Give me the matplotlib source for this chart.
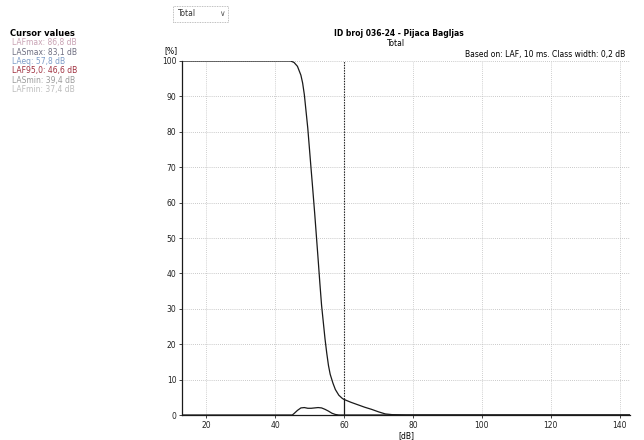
import matplotlib.pyplot as plt
from matplotlib.patches import Rectangle

# cumulative distribution [%] vs level [dB]
cum_db = [13, 44.5, 45.5, 46.5, 47.5, 48.0, 48.5, 49.5, 50.5, 50.8, 51.5, 52.5, 53.0,
          53.5, 54.5, 55.0, 55.5, 56.0, 56.8, 57.5, 58.5, 59.5, 60.0, 62, 64, 66, 68,
          70, 72, 74, 78, 143]
cum_pct = [100, 100, 99.6, 98.5, 96, 93.8, 90.5, 81, 69, 65.5, 57, 44, 37.3,
           31, 21.5, 17.5, 14, 11.5, 9, 7.2, 5.6, 4.7, 4.4, 3.6, 2.9, 2.2, 1.6,
           0.9, 0.3, 0.1, 0, 0]

# class distribution [%] per 0.2 dB class
dist_db = [13, 45, 45.5, 46.5, 47.5, 48.5, 49.5, 50.5, 51.5, 52.5, 53.5, 54.5, 55.5,
           56.5, 57.5, 58.5, 143]
dist_pct = [0, 0, 0.4, 1.3, 2.0, 2.1, 1.9, 1.9, 2.0, 2.1, 2.0, 1.6, 1.1,
            0.5, 0.15, 0, 0]

cursor_db = 60.0
cursor_pct = 4.4

cursor_labels = ['LAFmax: 86,8 dB', 'LASmax: 83,1 dB', 'LAeq: 57,8 dB',
                 'LAF95,0: 46,6 dB', 'LASmin: 39,4 dB', 'LAFmin: 37,4 dB']
cursor_colors = ['#c9a3b4', '#6e6e80', '#7d9cc8', '#a0303f', '#9a9a9a', '#bdbdbd']

xticks = [20, 40, 60, 80, 100, 120, 140]
yticks = [0, 10, 20, 30, 40, 50, 60, 70, 80, 90, 100]

fs = 5.5
fig = plt.figure(figsize=(6.44, 4.4), dpi=100)
ax = fig.add_axes([182/644, 1-415/440, (630-182)/644, (415-61)/440])

for x in xticks:
    ax.plot([x, x], [0, 100], color='#c0c0c0', lw=0.6, ls=(0, (1, 1.5)), zorder=1)
for y in yticks[1:]:
    ax.plot([13, 143], [y, y], color='#b8b8b8', lw=0.6, ls=(0, (1, 1.5)), zorder=1)

ax.plot(cum_db, cum_pct, color='#1a1a1a', lw=0.9, zorder=3)
ax.plot(dist_db, dist_pct, color='#1a1a1a', lw=0.9, zorder=3)

# cursor
ax.plot([cursor_db, cursor_db], [cursor_pct, 100], color='#1a1a1a', lw=0.8,
        ls=(0, (1.2, 1.2)), zorder=4)
ax.plot([cursor_db, cursor_db], [0, cursor_pct], color='#1a1a1a', lw=0.9, zorder=4)

ax.set_xlim(13, 143)
ax.set_ylim(0, 100)
ax.set_xticks(xticks)
ax.set_yticks(yticks)
ax.tick_params(labelsize=fs, length=2.5, width=0.6, pad=1.5, colors='#222222')
for s in ['top', 'right']:
    ax.spines[s].set_visible(False)
for s in ['left', 'bottom']:
    ax.spines[s].set_linewidth(0.9)
    ax.spines[s].set_color('#1a1a1a')
ax.set_xlabel('[dB]', fontsize=fs, labelpad=1)
ax.text(-0.025, 1.016, '[%]', transform=ax.transAxes, fontsize=fs, ha='center', va='bottom')

fig.text(399/644, 1-33/440, 'ID broj 036-24 - Pijaca Bagljas', fontsize=fs, weight='bold',
         ha='center', va='center')
fig.text(396/644, 1-43/440, 'Total', fontsize=fs, ha='center', va='center')
fig.text(625/644, 1-55/440, 'Based on: LAF, 10 ms. Class width: 0,2 dB', fontsize=fs,
         ha='right', va='center')

# dropdown box
fig.patches.append(Rectangle((173/644, 1-22/440), 55/644, 16/440, transform=fig.transFigure,
                             fill=False, ec='#aaaaaa', lw=0.6, ls=(0, (1, 1))))
fig.text(178/644, 1-14/440, 'Total', fontsize=fs, ha='left', va='center', color='#333333')
fig.text(222/644, 1-14/440, '\u2228', fontsize=fs, ha='center', va='center', color='#555555')

# cursor values panel
fig.text(10/644, 1-33/440, 'Cursor values', fontsize=fs+0.5, weight='bold', ha='left', va='center')
for i, (lab, col) in enumerate(zip(cursor_labels, cursor_colors)):
    fig.text(12/644, 1-(43 + 9.3*i)/440, lab, fontsize=fs, color=col, ha='left', va='center')

fig.savefig('out.png', dpi=100, facecolor='white')
